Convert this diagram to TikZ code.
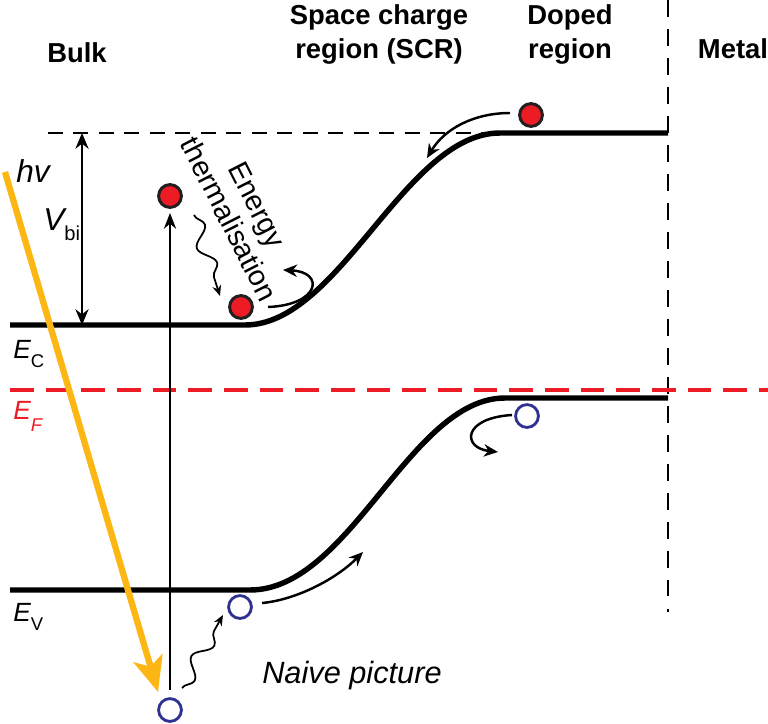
\documentclass[tikz,border=0pt]{standalone}
\usepackage{fontspec}
\setsansfont{Liberation Sans}
\usetikzlibrary{arrows.meta, decorations.pathmorphing}

\definecolor{elred}{RGB}{237,28,36}
\definecolor{holeblue}{RGB}{46,49,146}
\definecolor{photon}{RGB}{253,183,20}
\definecolor{rim}{RGB}{35,31,32}

% lowered subscript for the level labels
\newcommand{\lowsub}[2][5.5pt]{\raisebox{-#1}{\fontsize{10.5}{10.5}\selectfont #2}}

\begin{document}
\begin{tikzpicture}
[x=0.02cm, y=-0.02cm, font=\sffamily,
band/.style={line width=3.1pt},
elec/.style={circle, draw=rim, fill=elred, line width=1.7pt, minimum size=13pt, inner sep=0pt},
hole/.style={circle, draw=holeblue, fill=white, line width=1.6pt, minimum size=13pt, inner sep=0pt},
hop/.style={line width=1.4pt, -{Stealth[length=8pt, width=7pt]}},
wiggle/.style={line width=1pt, -{Stealth[length=6pt, width=5pt]}, decorate,
  decoration={snake, amplitude=1.5mm, segment length=8mm, post length=2mm}},
head/.style={font=\sffamily\bfseries\fontsize{15.6}{18.8}\selectfont, align=center, inner sep=0pt},
level/.style={font=\sffamily\itshape\fontsize{15}{17}\selectfont, anchor=base west, inner sep=0pt}
]
\useasboundingbox (0,0) rectangle (768,724);

% region headings
\node[head, anchor=base] (bulk) at (77,62) {Bulk};
\node[head, anchor=base] (scr) at (379,58) {Space charge\\region (SCR)};
\node[head, anchor=base] (doped) at (570,58) {Doped\\region};
\node[head, anchor=base] (metal) at (733,58) {Metal};

% reference lines
\draw[line width=1.2pt, dash pattern=on 8.5pt off 6pt] (48,133) coordinate (vl0) -- (490,133) coordinate (vl1);
\draw[line width=1.4pt, dash pattern=on 9.5pt off 7pt] (668,0) coordinate (m0) -- (668,612) coordinate (m1);
\draw[line width=2.8pt, elred, dash pattern=on 13.5pt off 6.8pt] (10,390) coordinate (f0) -- (768,390) coordinate (f1);

% conduction and valence bands
\draw[band] (10,325) coordinate (c0) -- (245,325) coordinate (c1)
  .. controls (340,325) and (405,133) .. (500,133) coordinate (c2) -- (668,133) coordinate (c3);
\draw[band] (10,590) coordinate (v0) -- (250,590) coordinate (v1)
  .. controls (350,590) and (410,398) .. (505,398) coordinate (v2) -- (668,398) coordinate (v3);

% built-in voltage
\draw[line width=1.1pt, {Stealth[length=9pt, width=7.5pt]}-{Stealth[length=9pt, width=7.5pt]}] (82,133) coordinate (vt) -- (82,325) coordinate (vb);

% level labels
\node[level, font=\sffamily\itshape\fontsize{18}{20}\selectfont] (hv) at (16,182) {hv};
\node[level, font=\sffamily\itshape\fontsize{18}{20}\selectfont] (vbi) at (43,230) {V\lowsub[6pt]{\upshape\fontsize{11.5}{11.5}\selectfont bi}};
\node[level] (ec) at (13,358) {E\lowsub{\upshape C}};
\node[level, text=elred] (ef) at (13,419) {E\lowsub[7pt]{F}};
\node[level] (ev) at (13,621) {E\lowsub{\upshape V}};

% incoming light
\draw[line width=3.6pt, photon, -{Stealth[length=20pt, width=17pt, inset=5pt]}] (5,172) coordinate (ray0) -- (158,692) coordinate (ray1);

% carriers
\path foreach \n/\x/\y in {e1/170/196, e2/241/307, e3/531/115}
{(\x,\y) node[elec] (\n) {}};
\path foreach \n/\x/\y in {h1/170/710, h2/240/607, h3/527/416}
{(\x,\y) node[hole] (\n) {}};

% ends of the carrier paths
\path
(h1) ++(0,-20) coordinate (x0)
(e1) ++(0,17) coordinate (x1)
(e1) ++(24,19) coordinate (w1a)
(e2) ++(-21,-11) coordinate (w1b)
(h1) ++(12,-22) coordinate (w2a)
(h2) ++(-17,8) coordinate (w2b)
(e2) ++(27,0) coordinate (s2)
(e3) ++(-21,-2) coordinate (s3)
(h2) ++(22,-4) coordinate (s5)
(h3) ++(-15,-1) coordinate (s6)
(283,270) coordinate (t2)
(427,158) coordinate (t3)
(363,552) coordinate (t5)
(498,452) coordinate (t6)
;

% excitation and thermalisation
\draw[line width=0.9pt, -{Stealth[length=9pt, width=7pt]}] (x0) -- (x1);
\draw[wiggle] (w1a) -- (w1b);
\draw[wiggle, decoration={mirror}] (w2a) -- (w2b);

% carrier transfer
\draw[hop] (s2) .. controls (320,305) and (325,272) .. (t2);
\draw[hop] (s3) .. controls (475,113) and (445,128) .. (t3);
\draw[hop] (s5) .. controls (295,600) and (335,580) .. (t5);
\draw[hop] (s6) .. controls (462,418) and (462,448) .. (t6);

% text labels
\node[rotate=-63, align=center, inner sep=0pt, font=\sffamily\fontsize{16.4}{18}\selectfont] (therm) at (243,212) {Energy\\thermalisation};
\node[anchor=base, inner sep=0pt, font=\sffamily\itshape\fontsize{17.5}{20}\selectfont] (naive) at (352,683) {Naive picture};

\end{tikzpicture}
\end{document}
